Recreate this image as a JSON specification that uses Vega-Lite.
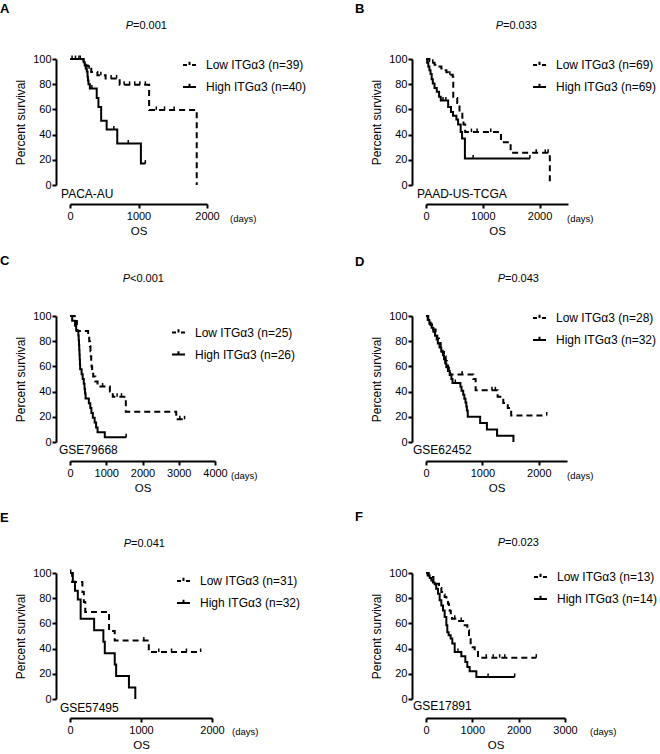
{
  "$schema": "https://vega.github.io/schema/vega-lite/v6.json",
  "background": "white",
  "padding": {"left": 0, "top": 2, "right": 4, "bottom": 0},
  "config": {
    "view": {"stroke": null},
    "font": "Liberation Sans",
    "axis": {"domainColor": "black", "domainWidth": 2, "tickColor": "black", "tickWidth": 2, "tickSize": 4, "labelColor": "black", "labelFontSize": 11, "labelFont": "Liberation Sans", "titleColor": "black", "titleFont": "Liberation Sans", "titleFontWeight": "normal", "grid": false, "labelFlush": false, "labelOverlap": false, "labelPadding": 2, "format": "d"},
    "axisX": {"titleFontSize": 11.5, "titlePadding": 4, "offset": 19},
    "axisY": {"titleFontSize": 12, "titlePadding": 5, "offset": 14, "labelPadding": 1},
    "legend": {"labelFontSize": 12, "labelFont": "Liberation Sans", "labelColor": "black", "symbolStrokeWidth": 2, "symbolSize": 169, "labelOffset": 9, "rowPadding": 8, "padding": 0, "symbolStrokeColor": "black"},
    "title": {"fontSize": 13, "fontWeight": "bold", "anchor": "start", "frame": "group", "color": "black", "font": "Liberation Sans"},
    "text": {"font": "Liberation Sans", "color": "black"}
  },
  "datasets": {
    "notes": [
      {"p": "A", "ds": "PACA-AU", "pv": "=0.001"},
      {"p": "B", "ds": "PAAD-US-TCGA", "pv": "=0.033"},
      {"p": "C", "ds": "GSE79668", "pv": "<0.001"},
      {"p": "D", "ds": "GSE62452", "pv": "=0.043"},
      {"p": "E", "ds": "GSE57495", "pv": "=0.041"},
      {"p": "F", "ds": "GSE17891", "pv": "=0.023"}
    ],
    "km": [
      {"p":"A","g":"Low ITGα3 (n=39)","t":0,"s":100,"c":0},
      {"p":"A","g":"Low ITGα3 (n=39)","t":195,"s":97.4,"c":0},
      {"p":"A","g":"Low ITGα3 (n=39)","t":225,"s":94.9,"c":0},
      {"p":"A","g":"Low ITGα3 (n=39)","t":260,"s":92.3,"c":0},
      {"p":"A","g":"Low ITGα3 (n=39)","t":310,"s":89.7,"c":0},
      {"p":"A","g":"Low ITGα3 (n=39)","t":400,"s":87.2,"c":0},
      {"p":"A","g":"Low ITGα3 (n=39)","t":520,"s":84.6,"c":0},
      {"p":"A","g":"Low ITGα3 (n=39)","t":725,"s":79.5,"c":0},
      {"p":"A","g":"Low ITGα3 (n=39)","t":1155,"s":59.6,"c":0},
      {"p":"A","g":"Low ITGα3 (n=39)","t":1850,"s":0,"c":0},
      {"p":"A","g":"Low ITGα3 (n=39)","t":30,"s":100,"c":1},
      {"p":"A","g":"Low ITGα3 (n=39)","t":80,"s":100,"c":1},
      {"p":"A","g":"Low ITGα3 (n=39)","t":130,"s":100,"c":1},
      {"p":"A","g":"Low ITGα3 (n=39)","t":280,"s":92.3,"c":1},
      {"p":"A","g":"Low ITGα3 (n=39)","t":450,"s":87.2,"c":1},
      {"p":"A","g":"Low ITGα3 (n=39)","t":600,"s":84.6,"c":1},
      {"p":"A","g":"Low ITGα3 (n=39)","t":680,"s":84.6,"c":1},
      {"p":"A","g":"Low ITGα3 (n=39)","t":790,"s":79.5,"c":1},
      {"p":"A","g":"Low ITGα3 (n=39)","t":870,"s":79.5,"c":1},
      {"p":"A","g":"Low ITGα3 (n=39)","t":945,"s":79.5,"c":1},
      {"p":"A","g":"Low ITGα3 (n=39)","t":1020,"s":79.5,"c":1},
      {"p":"A","g":"Low ITGα3 (n=39)","t":1100,"s":79.5,"c":1},
      {"p":"A","g":"Low ITGα3 (n=39)","t":1260,"s":59.6,"c":1},
      {"p":"A","g":"Low ITGα3 (n=39)","t":1380,"s":59.6,"c":1},
      {"p":"A","g":"Low ITGα3 (n=39)","t":1520,"s":59.6,"c":1},
      {"p":"A","g":"High ITGα3 (n=40)","t":0,"s":100,"c":0},
      {"p":"A","g":"High ITGα3 (n=40)","t":200,"s":97.5,"c":0},
      {"p":"A","g":"High ITGα3 (n=40)","t":215,"s":95,"c":0},
      {"p":"A","g":"High ITGα3 (n=40)","t":230,"s":92.5,"c":0},
      {"p":"A","g":"High ITGα3 (n=40)","t":245,"s":90,"c":0},
      {"p":"A","g":"High ITGα3 (n=40)","t":256,"s":86,"c":0},
      {"p":"A","g":"High ITGα3 (n=40)","t":262,"s":83,"c":0},
      {"p":"A","g":"High ITGα3 (n=40)","t":270,"s":80,"c":0},
      {"p":"A","g":"High ITGα3 (n=40)","t":290,"s":76.5,"c":0},
      {"p":"A","g":"High ITGα3 (n=40)","t":390,"s":69,"c":0},
      {"p":"A","g":"High ITGα3 (n=40)","t":415,"s":62,"c":0},
      {"p":"A","g":"High ITGα3 (n=40)","t":455,"s":51,"c":0},
      {"p":"A","g":"High ITGα3 (n=40)","t":535,"s":44,"c":0},
      {"p":"A","g":"High ITGα3 (n=40)","t":690,"s":33,"c":0},
      {"p":"A","g":"High ITGα3 (n=40)","t":1035,"s":17,"c":0},
      {"p":"A","g":"High ITGα3 (n=40)","t":150,"s":100,"c":1},
      {"p":"A","g":"High ITGα3 (n=40)","t":320,"s":76.5,"c":1},
      {"p":"A","g":"High ITGα3 (n=40)","t":640,"s":44,"c":1},
      {"p":"A","g":"High ITGα3 (n=40)","t":850,"s":33,"c":1},
      {"p":"A","g":"High ITGα3 (n=40)","t":1100,"s":17,"c":1},

      {"p":"B","g":"Low ITGα3 (n=69)","t":0,"s":100,"c":0},
      {"p":"B","g":"Low ITGα3 (n=69)","t":60,"s":98.5,"c":0},
      {"p":"B","g":"Low ITGα3 (n=69)","t":100,"s":97,"c":0},
      {"p":"B","g":"Low ITGα3 (n=69)","t":150,"s":95.5,"c":0},
      {"p":"B","g":"Low ITGα3 (n=69)","t":200,"s":94,"c":0},
      {"p":"B","g":"Low ITGα3 (n=69)","t":270,"s":92.5,"c":0},
      {"p":"B","g":"Low ITGα3 (n=69)","t":320,"s":91,"c":0},
      {"p":"B","g":"Low ITGα3 (n=69)","t":360,"s":89.5,"c":0},
      {"p":"B","g":"Low ITGα3 (n=69)","t":390,"s":87.5,"c":0},
      {"p":"B","g":"Low ITGα3 (n=69)","t":470,"s":86,"c":0},
      {"p":"B","g":"Low ITGα3 (n=69)","t":480,"s":69,"c":0},
      {"p":"B","g":"Low ITGα3 (n=69)","t":550,"s":65,"c":0},
      {"p":"B","g":"Low ITGα3 (n=69)","t":590,"s":58,"c":0},
      {"p":"B","g":"Low ITGα3 (n=69)","t":640,"s":52,"c":0},
      {"p":"B","g":"Low ITGα3 (n=69)","t":660,"s":48,"c":0},
      {"p":"B","g":"Low ITGα3 (n=69)","t":690,"s":42,"c":0},
      {"p":"B","g":"Low ITGα3 (n=69)","t":1320,"s":34,"c":0},
      {"p":"B","g":"Low ITGα3 (n=69)","t":1490,"s":25.5,"c":0},
      {"p":"B","g":"Low ITGα3 (n=69)","t":2180,"s":0,"c":0},
      {"p":"B","g":"Low ITGα3 (n=69)","t":120,"s":97,"c":1},
      {"p":"B","g":"Low ITGα3 (n=69)","t":420,"s":87.5,"c":1},
      {"p":"B","g":"Low ITGα3 (n=69)","t":800,"s":42,"c":1},
      {"p":"B","g":"Low ITGα3 (n=69)","t":900,"s":42,"c":1},
      {"p":"B","g":"Low ITGα3 (n=69)","t":1140,"s":42,"c":1},
      {"p":"B","g":"Low ITGα3 (n=69)","t":1940,"s":25.5,"c":1},
      {"p":"B","g":"Low ITGα3 (n=69)","t":2100,"s":25.5,"c":1},
      {"p":"B","g":"Low ITGα3 (n=69)","t":2150,"s":25.5,"c":1},
      {"p":"B","g":"High ITGα3 (n=69)","t":0,"s":100,"c":0},
      {"p":"B","g":"High ITGα3 (n=69)","t":20,"s":97,"c":0},
      {"p":"B","g":"High ITGα3 (n=69)","t":40,"s":94,"c":0},
      {"p":"B","g":"High ITGα3 (n=69)","t":60,"s":91,"c":0},
      {"p":"B","g":"High ITGα3 (n=69)","t":80,"s":88,"c":0},
      {"p":"B","g":"High ITGα3 (n=69)","t":100,"s":84,"c":0},
      {"p":"B","g":"High ITGα3 (n=69)","t":120,"s":80.5,"c":0},
      {"p":"B","g":"High ITGα3 (n=69)","t":150,"s":77,"c":0},
      {"p":"B","g":"High ITGα3 (n=69)","t":190,"s":74,"c":0},
      {"p":"B","g":"High ITGα3 (n=69)","t":230,"s":70,"c":0},
      {"p":"B","g":"High ITGα3 (n=69)","t":260,"s":67,"c":0},
      {"p":"B","g":"High ITGα3 (n=69)","t":390,"s":62,"c":0},
      {"p":"B","g":"High ITGα3 (n=69)","t":440,"s":58,"c":0},
      {"p":"B","g":"High ITGα3 (n=69)","t":475,"s":55,"c":0},
      {"p":"B","g":"High ITGα3 (n=69)","t":535,"s":52,"c":0},
      {"p":"B","g":"High ITGα3 (n=69)","t":565,"s":48,"c":0},
      {"p":"B","g":"High ITGα3 (n=69)","t":610,"s":42,"c":0},
      {"p":"B","g":"High ITGα3 (n=69)","t":635,"s":37,"c":0},
      {"p":"B","g":"High ITGα3 (n=69)","t":685,"s":21,"c":0},
      {"p":"B","g":"High ITGα3 (n=69)","t":300,"s":67,"c":1},
      {"p":"B","g":"High ITGα3 (n=69)","t":350,"s":67,"c":1},
      {"p":"B","g":"High ITGα3 (n=69)","t":830,"s":21,"c":1},
      {"p":"B","g":"High ITGα3 (n=69)","t":1830,"s":21,"c":1},

      {"p":"C","g":"Low ITGα3 (n=25)","t":0,"s":100,"c":0},
      {"p":"C","g":"Low ITGα3 (n=25)","t":130,"s":96,"c":0},
      {"p":"C","g":"Low ITGα3 (n=25)","t":190,"s":88,"c":0},
      {"p":"C","g":"Low ITGα3 (n=25)","t":500,"s":84,"c":0},
      {"p":"C","g":"Low ITGα3 (n=25)","t":530,"s":80,"c":0},
      {"p":"C","g":"Low ITGα3 (n=25)","t":550,"s":76,"c":0},
      {"p":"C","g":"Low ITGα3 (n=25)","t":565,"s":72,"c":0},
      {"p":"C","g":"Low ITGα3 (n=25)","t":575,"s":68,"c":0},
      {"p":"C","g":"Low ITGα3 (n=25)","t":585,"s":64,"c":0},
      {"p":"C","g":"Low ITGα3 (n=25)","t":595,"s":60,"c":0},
      {"p":"C","g":"Low ITGα3 (n=25)","t":610,"s":56,"c":0},
      {"p":"C","g":"Low ITGα3 (n=25)","t":640,"s":52,"c":0},
      {"p":"C","g":"Low ITGα3 (n=25)","t":700,"s":48,"c":0},
      {"p":"C","g":"Low ITGα3 (n=25)","t":760,"s":44,"c":0},
      {"p":"C","g":"Low ITGα3 (n=25)","t":1100,"s":40,"c":0},
      {"p":"C","g":"Low ITGα3 (n=25)","t":1180,"s":36,"c":0},
      {"p":"C","g":"Low ITGα3 (n=25)","t":1540,"s":24,"c":0},
      {"p":"C","g":"Low ITGα3 (n=25)","t":2930,"s":18,"c":0},
      {"p":"C","g":"Low ITGα3 (n=25)","t":900,"s":44,"c":1},
      {"p":"C","g":"Low ITGα3 (n=25)","t":1300,"s":36,"c":1},
      {"p":"C","g":"Low ITGα3 (n=25)","t":1420,"s":36,"c":1},
      {"p":"C","g":"Low ITGα3 (n=25)","t":3030,"s":18,"c":1},
      {"p":"C","g":"Low ITGα3 (n=25)","t":3160,"s":18,"c":1},
      {"p":"C","g":"High ITGα3 (n=26)","t":0,"s":100,"c":0},
      {"p":"C","g":"High ITGα3 (n=26)","t":60,"s":96.2,"c":0},
      {"p":"C","g":"High ITGα3 (n=26)","t":140,"s":92.3,"c":0},
      {"p":"C","g":"High ITGα3 (n=26)","t":170,"s":88.5,"c":0},
      {"p":"C","g":"High ITGα3 (n=26)","t":230,"s":84.6,"c":0},
      {"p":"C","g":"High ITGα3 (n=26)","t":240,"s":80.8,"c":0},
      {"p":"C","g":"High ITGα3 (n=26)","t":248,"s":76.9,"c":0},
      {"p":"C","g":"High ITGα3 (n=26)","t":255,"s":73.1,"c":0},
      {"p":"C","g":"High ITGα3 (n=26)","t":262,"s":69.2,"c":0},
      {"p":"C","g":"High ITGα3 (n=26)","t":268,"s":65.4,"c":0},
      {"p":"C","g":"High ITGα3 (n=26)","t":274,"s":61.5,"c":0},
      {"p":"C","g":"High ITGα3 (n=26)","t":280,"s":57.7,"c":0},
      {"p":"C","g":"High ITGα3 (n=26)","t":320,"s":53.8,"c":0},
      {"p":"C","g":"High ITGα3 (n=26)","t":350,"s":50,"c":0},
      {"p":"C","g":"High ITGα3 (n=26)","t":380,"s":46.2,"c":0},
      {"p":"C","g":"High ITGα3 (n=26)","t":400,"s":42.3,"c":0},
      {"p":"C","g":"High ITGα3 (n=26)","t":415,"s":38.5,"c":0},
      {"p":"C","g":"High ITGα3 (n=26)","t":430,"s":34.6,"c":0},
      {"p":"C","g":"High ITGα3 (n=26)","t":520,"s":30.8,"c":0},
      {"p":"C","g":"High ITGα3 (n=26)","t":560,"s":26.9,"c":0},
      {"p":"C","g":"High ITGα3 (n=26)","t":590,"s":23.1,"c":0},
      {"p":"C","g":"High ITGα3 (n=26)","t":630,"s":19.2,"c":0},
      {"p":"C","g":"High ITGα3 (n=26)","t":680,"s":15.4,"c":0},
      {"p":"C","g":"High ITGα3 (n=26)","t":720,"s":11.5,"c":0},
      {"p":"C","g":"High ITGα3 (n=26)","t":760,"s":7.7,"c":0},
      {"p":"C","g":"High ITGα3 (n=26)","t":960,"s":3.8,"c":0},
      {"p":"C","g":"High ITGα3 (n=26)","t":1550,"s":3.8,"c":1},

      {"p":"D","g":"Low ITGα3 (n=28)","t":0,"s":100,"c":0},
      {"p":"D","g":"Low ITGα3 (n=28)","t":40,"s":96.4,"c":0},
      {"p":"D","g":"Low ITGα3 (n=28)","t":80,"s":92.9,"c":0},
      {"p":"D","g":"Low ITGα3 (n=28)","t":130,"s":89.3,"c":0},
      {"p":"D","g":"Low ITGα3 (n=28)","t":170,"s":85.7,"c":0},
      {"p":"D","g":"Low ITGα3 (n=28)","t":200,"s":82.1,"c":0},
      {"p":"D","g":"Low ITGα3 (n=28)","t":230,"s":78.6,"c":0},
      {"p":"D","g":"Low ITGα3 (n=28)","t":260,"s":75,"c":0},
      {"p":"D","g":"Low ITGα3 (n=28)","t":290,"s":71.4,"c":0},
      {"p":"D","g":"Low ITGα3 (n=28)","t":320,"s":67.9,"c":0},
      {"p":"D","g":"Low ITGα3 (n=28)","t":350,"s":64.3,"c":0},
      {"p":"D","g":"Low ITGα3 (n=28)","t":370,"s":60.7,"c":0},
      {"p":"D","g":"Low ITGα3 (n=28)","t":390,"s":57.1,"c":0},
      {"p":"D","g":"Low ITGα3 (n=28)","t":430,"s":53.6,"c":0},
      {"p":"D","g":"Low ITGα3 (n=28)","t":840,"s":50,"c":0},
      {"p":"D","g":"Low ITGα3 (n=28)","t":880,"s":41,"c":0},
      {"p":"D","g":"Low ITGα3 (n=28)","t":1270,"s":36,"c":0},
      {"p":"D","g":"Low ITGα3 (n=28)","t":1370,"s":31,"c":0},
      {"p":"D","g":"Low ITGα3 (n=28)","t":1450,"s":27,"c":0},
      {"p":"D","g":"Low ITGα3 (n=28)","t":1510,"s":21,"c":0},
      {"p":"D","g":"Low ITGα3 (n=28)","t":410,"s":57.1,"c":1},
      {"p":"D","g":"Low ITGα3 (n=28)","t":640,"s":53.6,"c":1},
      {"p":"D","g":"Low ITGα3 (n=28)","t":1170,"s":41,"c":1},
      {"p":"D","g":"Low ITGα3 (n=28)","t":1230,"s":41,"c":1},
      {"p":"D","g":"Low ITGα3 (n=28)","t":2140,"s":21,"c":1},
      {"p":"D","g":"High ITGα3 (n=32)","t":0,"s":100,"c":0},
      {"p":"D","g":"High ITGα3 (n=32)","t":30,"s":96.9,"c":0},
      {"p":"D","g":"High ITGα3 (n=32)","t":60,"s":93.8,"c":0},
      {"p":"D","g":"High ITGα3 (n=32)","t":100,"s":90.6,"c":0},
      {"p":"D","g":"High ITGα3 (n=32)","t":130,"s":87.5,"c":0},
      {"p":"D","g":"High ITGα3 (n=32)","t":160,"s":84.4,"c":0},
      {"p":"D","g":"High ITGα3 (n=32)","t":190,"s":81.3,"c":0},
      {"p":"D","g":"High ITGα3 (n=32)","t":210,"s":78.1,"c":0},
      {"p":"D","g":"High ITGα3 (n=32)","t":240,"s":75,"c":0},
      {"p":"D","g":"High ITGα3 (n=32)","t":270,"s":71.9,"c":0},
      {"p":"D","g":"High ITGα3 (n=32)","t":300,"s":68.8,"c":0},
      {"p":"D","g":"High ITGα3 (n=32)","t":320,"s":65.6,"c":0},
      {"p":"D","g":"High ITGα3 (n=32)","t":340,"s":62.5,"c":0},
      {"p":"D","g":"High ITGα3 (n=32)","t":360,"s":59.4,"c":0},
      {"p":"D","g":"High ITGα3 (n=32)","t":390,"s":56.3,"c":0},
      {"p":"D","g":"High ITGα3 (n=32)","t":420,"s":53.1,"c":0},
      {"p":"D","g":"High ITGα3 (n=32)","t":450,"s":50,"c":0},
      {"p":"D","g":"High ITGα3 (n=32)","t":470,"s":46.9,"c":0},
      {"p":"D","g":"High ITGα3 (n=32)","t":610,"s":43.8,"c":0},
      {"p":"D","g":"High ITGα3 (n=32)","t":630,"s":40.6,"c":0},
      {"p":"D","g":"High ITGα3 (n=32)","t":660,"s":37.5,"c":0},
      {"p":"D","g":"High ITGα3 (n=32)","t":680,"s":34.4,"c":0},
      {"p":"D","g":"High ITGα3 (n=32)","t":700,"s":31.3,"c":0},
      {"p":"D","g":"High ITGα3 (n=32)","t":715,"s":28.1,"c":0},
      {"p":"D","g":"High ITGα3 (n=32)","t":725,"s":25,"c":0},
      {"p":"D","g":"High ITGα3 (n=32)","t":740,"s":20,"c":0},
      {"p":"D","g":"High ITGα3 (n=32)","t":960,"s":15,"c":0},
      {"p":"D","g":"High ITGα3 (n=32)","t":1080,"s":10,"c":0},
      {"p":"D","g":"High ITGα3 (n=32)","t":1260,"s":5,"c":0},
      {"p":"D","g":"High ITGα3 (n=32)","t":1550,"s":0,"c":0},
      {"p":"D","g":"High ITGα3 (n=32)","t":520,"s":46.9,"c":1},

      {"p":"E","g":"Low ITGα3 (n=31)","t":0,"s":100,"c":0},
      {"p":"E","g":"Low ITGα3 (n=31)","t":30,"s":92.9,"c":0},
      {"p":"E","g":"Low ITGα3 (n=31)","t":175,"s":85,"c":0},
      {"p":"E","g":"Low ITGα3 (n=31)","t":195,"s":77,"c":0},
      {"p":"E","g":"Low ITGα3 (n=31)","t":215,"s":69,"c":0},
      {"p":"E","g":"Low ITGα3 (n=31)","t":550,"s":54,"c":0},
      {"p":"E","g":"Low ITGα3 (n=31)","t":630,"s":46.5,"c":0},
      {"p":"E","g":"Low ITGα3 (n=31)","t":1110,"s":37.3,"c":0},
      {"p":"E","g":"Low ITGα3 (n=31)","t":10,"s":100,"c":1},
      {"p":"E","g":"Low ITGα3 (n=31)","t":1040,"s":46.5,"c":1},
      {"p":"E","g":"Low ITGα3 (n=31)","t":1250,"s":37.3,"c":1},
      {"p":"E","g":"Low ITGα3 (n=31)","t":1430,"s":37.3,"c":1},
      {"p":"E","g":"Low ITGα3 (n=31)","t":1640,"s":37.3,"c":1},
      {"p":"E","g":"Low ITGα3 (n=31)","t":1840,"s":37.3,"c":1},
      {"p":"E","g":"High ITGα3 (n=32)","t":0,"s":100,"c":0},
      {"p":"E","g":"High ITGα3 (n=32)","t":40,"s":93,"c":0},
      {"p":"E","g":"High ITGα3 (n=32)","t":70,"s":86,"c":0},
      {"p":"E","g":"High ITGα3 (n=32)","t":110,"s":79,"c":0},
      {"p":"E","g":"High ITGα3 (n=32)","t":150,"s":63.6,"c":0},
      {"p":"E","g":"High ITGα3 (n=32)","t":340,"s":54.5,"c":0},
      {"p":"E","g":"High ITGα3 (n=32)","t":470,"s":45.5,"c":0},
      {"p":"E","g":"High ITGα3 (n=32)","t":490,"s":36.4,"c":0},
      {"p":"E","g":"High ITGα3 (n=32)","t":630,"s":27.3,"c":0},
      {"p":"E","g":"High ITGα3 (n=32)","t":650,"s":18.2,"c":0},
      {"p":"E","g":"High ITGα3 (n=32)","t":830,"s":9.1,"c":0},
      {"p":"E","g":"High ITGα3 (n=32)","t":920,"s":0,"c":0},

      {"p":"F","g":"Low ITGα3 (n=13)","t":0,"s":100,"c":0},
      {"p":"F","g":"Low ITGα3 (n=13)","t":60,"s":98,"c":0},
      {"p":"F","g":"Low ITGα3 (n=13)","t":115,"s":96.8,"c":0},
      {"p":"F","g":"Low ITGα3 (n=13)","t":160,"s":94,"c":0},
      {"p":"F","g":"Low ITGα3 (n=13)","t":223,"s":91.5,"c":0},
      {"p":"F","g":"Low ITGα3 (n=13)","t":280,"s":88,"c":0},
      {"p":"F","g":"Low ITGα3 (n=13)","t":331,"s":85,"c":0},
      {"p":"F","g":"Low ITGα3 (n=13)","t":370,"s":83,"c":0},
      {"p":"F","g":"Low ITGα3 (n=13)","t":403,"s":81,"c":0},
      {"p":"F","g":"Low ITGα3 (n=13)","t":440,"s":78,"c":0},
      {"p":"F","g":"Low ITGα3 (n=13)","t":475,"s":75.5,"c":0},
      {"p":"F","g":"Low ITGα3 (n=13)","t":495,"s":72,"c":0},
      {"p":"F","g":"Low ITGα3 (n=13)","t":511,"s":70,"c":0},
      {"p":"F","g":"Low ITGα3 (n=13)","t":535,"s":66,"c":0},
      {"p":"F","g":"Low ITGα3 (n=13)","t":561,"s":63.7,"c":0},
      {"p":"F","g":"Low ITGα3 (n=13)","t":680,"s":62,"c":0},
      {"p":"F","g":"Low ITGα3 (n=13)","t":835,"s":58.6,"c":0},
      {"p":"F","g":"Low ITGα3 (n=13)","t":892,"s":54.6,"c":0},
      {"p":"F","g":"Low ITGα3 (n=13)","t":928,"s":49,"c":0},
      {"p":"F","g":"Low ITGα3 (n=13)","t":964,"s":41,"c":0},
      {"p":"F","g":"Low ITGα3 (n=13)","t":1050,"s":38.4,"c":0},
      {"p":"F","g":"Low ITGα3 (n=13)","t":1122,"s":32.8,"c":0},
      {"p":"F","g":"Low ITGα3 (n=13)","t":620,"s":63.7,"c":1},
      {"p":"F","g":"Low ITGα3 (n=13)","t":760,"s":62,"c":1},
      {"p":"F","g":"Low ITGα3 (n=13)","t":1300,"s":32.8,"c":1},
      {"p":"F","g":"Low ITGα3 (n=13)","t":1450,"s":32.8,"c":1},
      {"p":"F","g":"Low ITGα3 (n=13)","t":1590,"s":32.8,"c":1},
      {"p":"F","g":"Low ITGα3 (n=13)","t":1700,"s":32.8,"c":1},
      {"p":"F","g":"Low ITGα3 (n=13)","t":2380,"s":32.8,"c":1},
      {"p":"F","g":"High ITGα3 (n=14)","t":0,"s":100,"c":0},
      {"p":"F","g":"High ITGα3 (n=14)","t":35,"s":98,"c":0},
      {"p":"F","g":"High ITGα3 (n=14)","t":80,"s":96,"c":0},
      {"p":"F","g":"High ITGα3 (n=14)","t":115,"s":94,"c":0},
      {"p":"F","g":"High ITGα3 (n=14)","t":150,"s":92.5,"c":0},
      {"p":"F","g":"High ITGα3 (n=14)","t":187,"s":91,"c":0},
      {"p":"F","g":"High ITGα3 (n=14)","t":220,"s":87.5,"c":0},
      {"p":"F","g":"High ITGα3 (n=14)","t":259,"s":83.6,"c":0},
      {"p":"F","g":"High ITGα3 (n=14)","t":295,"s":78.3,"c":0},
      {"p":"F","g":"High ITGα3 (n=14)","t":331,"s":74.3,"c":0},
      {"p":"F","g":"High ITGα3 (n=14)","t":367,"s":70.3,"c":0},
      {"p":"F","g":"High ITGα3 (n=14)","t":403,"s":65,"c":0},
      {"p":"F","g":"High ITGα3 (n=14)","t":439,"s":58.5,"c":0},
      {"p":"F","g":"High ITGα3 (n=14)","t":460,"s":53,"c":0},
      {"p":"F","g":"High ITGα3 (n=14)","t":489,"s":50.5,"c":0},
      {"p":"F","g":"High ITGα3 (n=14)","t":532,"s":48,"c":0},
      {"p":"F","g":"High ITGα3 (n=14)","t":568,"s":44,"c":0},
      {"p":"F","g":"High ITGα3 (n=14)","t":619,"s":37.3,"c":0},
      {"p":"F","g":"High ITGα3 (n=14)","t":763,"s":34,"c":0},
      {"p":"F","g":"High ITGα3 (n=14)","t":849,"s":29.4,"c":0},
      {"p":"F","g":"High ITGα3 (n=14)","t":892,"s":25.4,"c":0},
      {"p":"F","g":"High ITGα3 (n=14)","t":942,"s":22,"c":0},
      {"p":"F","g":"High ITGα3 (n=14)","t":1087,"s":17.5,"c":0},
      {"p":"F","g":"High ITGα3 (n=14)","t":690,"s":37.3,"c":1},
      {"p":"F","g":"High ITGα3 (n=14)","t":1340,"s":17.5,"c":1},
      {"p":"F","g":"High ITGα3 (n=14)","t":1914,"s":17.5,"c":1}
    ]
  },
  "columns": 2,
  "spacing": {"row": 131, "column": 211},
  "bounds": "flush",
  "resolve": {"scale": {"strokeDash": "independent"}, "legend": {"strokeDash": "independent"}},
  "concat": [
    {
      "width": 137, "height": 126,
      "title": {"text": "A", "offset": 4.2, "dx": -70},
      "layer": [
        {"data": {"name": "km"}, "transform": [{"filter": "datum.p==='A'"}],
         "mark": {"type": "line", "interpolate": "step-after", "strokeWidth": 2, "color": "black"},
         "encoding": {
           "x": {"field": "t", "type": "quantitative", "scale": {"domain": [0, 2000], "nice": false}, "axis": {"values": [0, 1000, 2000], "labelOverlap": false, "title": "OS"}},
           "y": {"field": "s", "type": "quantitative", "scale": {"domain": [0, 100], "nice": false}, "axis": {"values": [0, 20, 40, 60, 80, 100], "labelOverlap": false, "title": "Percent survival"}},
           "strokeDash": {"field": "g", "type": "nominal", "sort": "descending", "scale": {"range": [[6, 4], [1, 0]]},
             "legend": {"title": null, "orient": "none", "legendX": 112, "legendY": -1.5,
               "encode": {"symbols": {"update": {"shape": {"signal": "indexof(datum.value,'Low')===0 ? 'M-1,0H-0.38M0.38,0H1M0,0V-0.5' : 'M-1,0H1M0,0V-0.5'"}, "strokeDash": {"value": [1, 0]}, "stroke": {"value": "black"}, "strokeWidth": {"value": 2}}}}}}
         }},
        {"data": {"name": "km"}, "transform": [{"filter": "datum.p==='A' && datum.c===1"}],
         "mark": {"type": "point", "shape": "M0,0V-1", "size": 49, "filled": false, "stroke": "black", "strokeWidth": 1.5, "opacity": 1},
         "encoding": {"x": {"field": "t", "type": "quantitative", "axis": {"values": [0, 1000, 2000], "labelOverlap": false, "title": "OS"}}, "y": {"field": "s", "type": "quantitative", "axis": {"values": [0, 20, 40, 60, 80, 100], "labelOverlap": false, "title": "Percent survival"}}}},
        {"data": {"name": "notes"}, "transform": [{"filter": "datum.p==='A'"}],
         "mark": {"type": "text", "align": "left", "baseline": "middle", "fontSize": 12},
         "encoding": {"x": {"datum": -131, "type": "quantitative", "axis": {"values": [0, 1000, 2000], "labelOverlap": false, "title": "OS"}}, "y": {"datum": -7.1, "type": "quantitative", "axis": {"values": [0, 20, 40, 60, 80, 100], "labelOverlap": false, "title": "Percent survival"}}, "text": {"field": "ds"}}},
        {"data": {"name": "notes"}, "transform": [{"filter": "datum.p==='A'"}],
         "mark": {"type": "text", "text": "P", "fontStyle": "italic", "align": "right", "baseline": "middle", "fontSize": 11},
         "encoding": {"x": {"datum": 920, "type": "quantitative", "axis": {"values": [0, 1000, 2000], "labelOverlap": false, "title": "OS"}}, "y": {"datum": 126.2, "type": "quantitative", "axis": {"values": [0, 20, 40, 60, 80, 100], "labelOverlap": false, "title": "Percent survival"}}}},
        {"data": {"name": "notes"}, "transform": [{"filter": "datum.p==='A'"}],
         "mark": {"type": "text", "align": "left", "baseline": "middle", "fontSize": 11},
         "encoding": {"x": {"datum": 920, "type": "quantitative", "axis": {"values": [0, 1000, 2000], "labelOverlap": false, "title": "OS"}}, "y": {"datum": 126.2, "type": "quantitative", "axis": {"values": [0, 20, 40, 60, 80, 100], "labelOverlap": false, "title": "Percent survival"}}, "text": {"field": "pv"}}},
        {"data": {"name": "notes"}, "transform": [{"filter": "datum.p==='A'"}],
         "mark": {"type": "text", "text": "(days)", "align": "left", "baseline": "middle", "fontSize": 9.5},
         "encoding": {"x": {"datum": 2336, "type": "quantitative", "axis": {"values": [0, 1000, 2000], "labelOverlap": false, "title": "OS"}}, "y": {"datum": -27, "type": "quantitative", "axis": {"values": [0, 20, 40, 60, 80, 100], "labelOverlap": false, "title": "Percent survival"}}}}
      ]
    },
    {
      "width": 142, "height": 126,
      "title": {"text": "B", "offset": 3.6, "dx": -71},
      "layer": [
        {"data": {"name": "km"}, "transform": [{"filter": "datum.p==='B'"}],
         "mark": {"type": "line", "interpolate": "step-after", "strokeWidth": 2, "color": "black"},
         "encoding": {
           "x": {"field": "t", "type": "quantitative", "scale": {"domain": [0, 2500], "nice": false}, "axis": {"values": [0, 1000, 2000], "labelOverlap": false, "title": "OS"}},
           "y": {"field": "s", "type": "quantitative", "scale": {"domain": [0, 100], "nice": false}, "axis": {"values": [0, 20, 40, 60, 80, 100], "labelOverlap": false, "title": "Percent survival"}},
           "strokeDash": {"field": "g", "type": "nominal", "sort": "descending", "scale": {"range": [[6, 4], [1, 0]]},
             "legend": {"title": null, "orient": "none", "legendX": 106, "legendY": -1.5,
               "encode": {"symbols": {"update": {"shape": {"signal": "indexof(datum.value,'Low')===0 ? 'M-1,0H-0.38M0.38,0H1M0,0V-0.5' : 'M-1,0H1M0,0V-0.5'"}, "strokeDash": {"value": [1, 0]}, "stroke": {"value": "black"}, "strokeWidth": {"value": 2}}}}}}
         }},
        {"data": {"name": "km"}, "transform": [{"filter": "datum.p==='B' && datum.c===1"}],
         "mark": {"type": "point", "shape": "M0,0V-1", "size": 49, "filled": false, "stroke": "black", "strokeWidth": 1.5, "opacity": 1},
         "encoding": {"x": {"field": "t", "type": "quantitative", "axis": {"values": [0, 1000, 2000], "labelOverlap": false, "title": "OS"}}, "y": {"field": "s", "type": "quantitative", "axis": {"values": [0, 20, 40, 60, 80, 100], "labelOverlap": false, "title": "Percent survival"}}}},
        {"data": {"name": "notes"}, "transform": [{"filter": "datum.p==='B'"}],
         "mark": {"type": "text", "align": "left", "baseline": "middle", "fontSize": 12},
         "encoding": {"x": {"datum": -158, "type": "quantitative", "axis": {"values": [0, 1000, 2000], "labelOverlap": false, "title": "OS"}}, "y": {"datum": -7.1, "type": "quantitative", "axis": {"values": [0, 20, 40, 60, 80, 100], "labelOverlap": false, "title": "Percent survival"}}, "text": {"field": "ds"}}},
        {"data": {"name": "notes"}, "transform": [{"filter": "datum.p==='B'"}],
         "mark": {"type": "text", "text": "P", "fontStyle": "italic", "align": "right", "baseline": "middle", "fontSize": 11},
         "encoding": {"x": {"datum": 1356, "type": "quantitative", "axis": {"values": [0, 1000, 2000], "labelOverlap": false, "title": "OS"}}, "y": {"datum": 126.2, "type": "quantitative", "axis": {"values": [0, 20, 40, 60, 80, 100], "labelOverlap": false, "title": "Percent survival"}}}},
        {"data": {"name": "notes"}, "transform": [{"filter": "datum.p==='B'"}],
         "mark": {"type": "text", "align": "left", "baseline": "middle", "fontSize": 11},
         "encoding": {"x": {"datum": 1356, "type": "quantitative", "axis": {"values": [0, 1000, 2000], "labelOverlap": false, "title": "OS"}}, "y": {"datum": 126.2, "type": "quantitative", "axis": {"values": [0, 20, 40, 60, 80, 100], "labelOverlap": false, "title": "Percent survival"}}, "text": {"field": "pv"}}},
        {"data": {"name": "notes"}, "transform": [{"filter": "datum.p==='B'"}],
         "mark": {"type": "text", "text": "(days)", "align": "left", "baseline": "middle", "fontSize": 9.5},
         "encoding": {"x": {"datum": 2482, "type": "quantitative", "axis": {"values": [0, 1000, 2000], "labelOverlap": false, "title": "OS"}}, "y": {"datum": -27, "type": "quantitative", "axis": {"values": [0, 20, 40, 60, 80, 100], "labelOverlap": false, "title": "Percent survival"}}}}
      ]
    },
    {
      "width": 145, "height": 126,
      "title": {"text": "C", "offset": 5.2, "dx": -70},
      "layer": [
        {"data": {"name": "km"}, "transform": [{"filter": "datum.p==='C'"}],
         "mark": {"type": "line", "interpolate": "step-after", "strokeWidth": 2, "color": "black"},
         "encoding": {
           "x": {"field": "t", "type": "quantitative", "scale": {"domain": [0, 4000], "nice": false}, "axis": {"values": [0, 1000, 2000, 3000, 4000], "labelOverlap": false, "title": "OS"}},
           "y": {"field": "s", "type": "quantitative", "scale": {"domain": [0, 100], "nice": false}, "axis": {"values": [0, 20, 40, 60, 80, 100], "labelOverlap": false, "title": "Percent survival"}},
           "strokeDash": {"field": "g", "type": "nominal", "sort": "descending", "scale": {"range": [[6, 4], [1, 0]]},
             "legend": {"title": null, "orient": "none", "legendX": 101, "legendY": 9,
               "encode": {"symbols": {"update": {"shape": {"signal": "indexof(datum.value,'Low')===0 ? 'M-1,0H-0.38M0.38,0H1M0,0V-0.5' : 'M-1,0H1M0,0V-0.5'"}, "strokeDash": {"value": [1, 0]}, "stroke": {"value": "black"}, "strokeWidth": {"value": 2}}}}}}
         }},
        {"data": {"name": "km"}, "transform": [{"filter": "datum.p==='C' && datum.c===1"}],
         "mark": {"type": "point", "shape": "M0,0V-1", "size": 49, "filled": false, "stroke": "black", "strokeWidth": 1.5, "opacity": 1},
         "encoding": {"x": {"field": "t", "type": "quantitative", "axis": {"values": [0, 1000, 2000, 3000, 4000], "labelOverlap": false, "title": "OS"}}, "y": {"field": "s", "type": "quantitative", "axis": {"values": [0, 20, 40, 60, 80, 100], "labelOverlap": false, "title": "Percent survival"}}}},
        {"data": {"name": "notes"}, "transform": [{"filter": "datum.p==='C'"}],
         "mark": {"type": "text", "align": "left", "baseline": "middle", "fontSize": 12},
         "encoding": {"x": {"datum": -303, "type": "quantitative", "axis": {"values": [0, 1000, 2000, 3000, 4000], "labelOverlap": false, "title": "OS"}}, "y": {"datum": -6.3, "type": "quantitative", "axis": {"values": [0, 20, 40, 60, 80, 100], "labelOverlap": false, "title": "Percent survival"}}, "text": {"field": "ds"}}},
        {"data": {"name": "notes"}, "transform": [{"filter": "datum.p==='C'"}],
         "mark": {"type": "text", "text": "P", "fontStyle": "italic", "align": "right", "baseline": "middle", "fontSize": 11},
         "encoding": {"x": {"datum": 1655, "type": "quantitative", "axis": {"values": [0, 1000, 2000, 3000, 4000], "labelOverlap": false, "title": "OS"}}, "y": {"datum": 129, "type": "quantitative", "axis": {"values": [0, 20, 40, 60, 80, 100], "labelOverlap": false, "title": "Percent survival"}}}},
        {"data": {"name": "notes"}, "transform": [{"filter": "datum.p==='C'"}],
         "mark": {"type": "text", "align": "left", "baseline": "middle", "fontSize": 11},
         "encoding": {"x": {"datum": 1655, "type": "quantitative", "axis": {"values": [0, 1000, 2000, 3000, 4000], "labelOverlap": false, "title": "OS"}}, "y": {"datum": 129, "type": "quantitative", "axis": {"values": [0, 20, 40, 60, 80, 100], "labelOverlap": false, "title": "Percent survival"}}, "text": {"field": "pv"}}},
        {"data": {"name": "notes"}, "transform": [{"filter": "datum.p==='C'"}],
         "mark": {"type": "text", "text": "(days)", "align": "left", "baseline": "middle", "fontSize": 9.5},
         "encoding": {"x": {"datum": 4441, "type": "quantitative", "axis": {"values": [0, 1000, 2000, 3000, 4000], "labelOverlap": false, "title": "OS"}}, "y": {"datum": -27, "type": "quantitative", "axis": {"values": [0, 20, 40, 60, 80, 100], "labelOverlap": false, "title": "Percent survival"}}}}
      ]
    },
    {
      "width": 141, "height": 126,
      "title": {"text": "D", "offset": 3.6, "dx": -71},
      "layer": [
        {"data": {"name": "km"}, "transform": [{"filter": "datum.p==='D'"}],
         "mark": {"type": "line", "interpolate": "step-after", "strokeWidth": 2, "color": "black"},
         "encoding": {
           "x": {"field": "t", "type": "quantitative", "scale": {"domain": [0, 2500], "nice": false}, "axis": {"values": [0, 1000, 2000], "labelOverlap": false, "title": "OS"}},
           "y": {"field": "s", "type": "quantitative", "scale": {"domain": [0, 100], "nice": false}, "axis": {"values": [0, 20, 40, 60, 80, 100], "labelOverlap": false, "title": "Percent survival"}},
           "strokeDash": {"field": "g", "type": "nominal", "sort": "descending", "scale": {"range": [[6, 4], [1, 0]]},
             "legend": {"title": null, "orient": "none", "legendX": 106, "legendY": -5.5,
               "encode": {"symbols": {"update": {"shape": {"signal": "indexof(datum.value,'Low')===0 ? 'M-1,0H-0.38M0.38,0H1M0,0V-0.5' : 'M-1,0H1M0,0V-0.5'"}, "strokeDash": {"value": [1, 0]}, "stroke": {"value": "black"}, "strokeWidth": {"value": 2}}}}}}
         }},
        {"data": {"name": "km"}, "transform": [{"filter": "datum.p==='D' && datum.c===1"}],
         "mark": {"type": "point", "shape": "M0,0V-1", "size": 49, "filled": false, "stroke": "black", "strokeWidth": 1.5, "opacity": 1},
         "encoding": {"x": {"field": "t", "type": "quantitative", "axis": {"values": [0, 1000, 2000], "labelOverlap": false, "title": "OS"}}, "y": {"field": "s", "type": "quantitative", "axis": {"values": [0, 20, 40, 60, 80, 100], "labelOverlap": false, "title": "Percent survival"}}}},
        {"data": {"name": "notes"}, "transform": [{"filter": "datum.p==='D'"}],
         "mark": {"type": "text", "align": "left", "baseline": "middle", "fontSize": 12},
         "encoding": {"x": {"datum": -230, "type": "quantitative", "axis": {"values": [0, 1000, 2000], "labelOverlap": false, "title": "OS"}}, "y": {"datum": -6.3, "type": "quantitative", "axis": {"values": [0, 20, 40, 60, 80, 100], "labelOverlap": false, "title": "Percent survival"}}, "text": {"field": "ds"}}},
        {"data": {"name": "notes"}, "transform": [{"filter": "datum.p==='D'"}],
         "mark": {"type": "text", "text": "P", "fontStyle": "italic", "align": "right", "baseline": "middle", "fontSize": 11},
         "encoding": {"x": {"datum": 1401, "type": "quantitative", "axis": {"values": [0, 1000, 2000], "labelOverlap": false, "title": "OS"}}, "y": {"datum": 129.4, "type": "quantitative", "axis": {"values": [0, 20, 40, 60, 80, 100], "labelOverlap": false, "title": "Percent survival"}}}},
        {"data": {"name": "notes"}, "transform": [{"filter": "datum.p==='D'"}],
         "mark": {"type": "text", "align": "left", "baseline": "middle", "fontSize": 11},
         "encoding": {"x": {"datum": 1401, "type": "quantitative", "axis": {"values": [0, 1000, 2000], "labelOverlap": false, "title": "OS"}}, "y": {"datum": 129.4, "type": "quantitative", "axis": {"values": [0, 20, 40, 60, 80, 100], "labelOverlap": false, "title": "Percent survival"}}, "text": {"field": "pv"}}},
        {"data": {"name": "notes"}, "transform": [{"filter": "datum.p==='D'"}],
         "mark": {"type": "text", "text": "(days)", "align": "left", "baseline": "middle", "fontSize": 9.5},
         "encoding": {"x": {"datum": 2500, "type": "quantitative", "axis": {"values": [0, 1000, 2000], "labelOverlap": false, "title": "OS"}}, "y": {"datum": -27, "type": "quantitative", "axis": {"values": [0, 20, 40, 60, 80, 100], "labelOverlap": false, "title": "Percent survival"}}}}
      ]
    },
    {
      "width": 142, "height": 126,
      "title": {"text": "E", "offset": 12.9, "dx": -70},
      "layer": [
        {"data": {"name": "km"}, "transform": [{"filter": "datum.p==='E'"}],
         "mark": {"type": "line", "interpolate": "step-after", "strokeWidth": 2, "color": "black"},
         "encoding": {
           "x": {"field": "t", "type": "quantitative", "scale": {"domain": [0, 2000], "nice": false}, "axis": {"values": [0, 1000, 2000], "labelOverlap": false, "title": "OS"}},
           "y": {"field": "s", "type": "quantitative", "scale": {"domain": [0, 100], "nice": false}, "axis": {"values": [0, 20, 40, 60, 80, 100], "labelOverlap": false, "title": "Percent survival"}},
           "strokeDash": {"field": "g", "type": "nominal", "sort": "descending", "scale": {"range": [[6, 4], [1, 0]]},
             "legend": {"title": null, "orient": "none", "legendX": 106, "legendY": 0.5,
               "encode": {"symbols": {"update": {"shape": {"signal": "indexof(datum.value,'Low')===0 ? 'M-1,0H-0.38M0.38,0H1M0,0V-0.5' : 'M-1,0H1M0,0V-0.5'"}, "strokeDash": {"value": [1, 0]}, "stroke": {"value": "black"}, "strokeWidth": {"value": 2}}}}}}
         }},
        {"data": {"name": "km"}, "transform": [{"filter": "datum.p==='E' && datum.c===1"}],
         "mark": {"type": "point", "shape": "M0,0V-1", "size": 49, "filled": false, "stroke": "black", "strokeWidth": 1.5, "opacity": 1},
         "encoding": {"x": {"field": "t", "type": "quantitative", "axis": {"values": [0, 1000, 2000], "labelOverlap": false, "title": "OS"}}, "y": {"field": "s", "type": "quantitative", "axis": {"values": [0, 20, 40, 60, 80, 100], "labelOverlap": false, "title": "Percent survival"}}}},
        {"data": {"name": "notes"}, "transform": [{"filter": "datum.p==='E'"}],
         "mark": {"type": "text", "align": "left", "baseline": "middle", "fontSize": 12},
         "encoding": {"x": {"datum": -141, "type": "quantitative", "axis": {"values": [0, 1000, 2000], "labelOverlap": false, "title": "OS"}}, "y": {"datum": -7.1, "type": "quantitative", "axis": {"values": [0, 20, 40, 60, 80, 100], "labelOverlap": false, "title": "Percent survival"}}, "text": {"field": "ds"}}},
        {"data": {"name": "notes"}, "transform": [{"filter": "datum.p==='E'"}],
         "mark": {"type": "text", "text": "P", "fontStyle": "italic", "align": "right", "baseline": "middle", "fontSize": 11},
         "encoding": {"x": {"datum": 859, "type": "quantitative", "axis": {"values": [0, 1000, 2000], "labelOverlap": false, "title": "OS"}}, "y": {"datum": 123, "type": "quantitative", "axis": {"values": [0, 20, 40, 60, 80, 100], "labelOverlap": false, "title": "Percent survival"}}}},
        {"data": {"name": "notes"}, "transform": [{"filter": "datum.p==='E'"}],
         "mark": {"type": "text", "align": "left", "baseline": "middle", "fontSize": 11},
         "encoding": {"x": {"datum": 859, "type": "quantitative", "axis": {"values": [0, 1000, 2000], "labelOverlap": false, "title": "OS"}}, "y": {"datum": 123, "type": "quantitative", "axis": {"values": [0, 20, 40, 60, 80, 100], "labelOverlap": false, "title": "Percent survival"}}, "text": {"field": "pv"}}},
        {"data": {"name": "notes"}, "transform": [{"filter": "datum.p==='E'"}],
         "mark": {"type": "text", "text": "(days)", "align": "left", "baseline": "middle", "fontSize": 9.5},
         "encoding": {"x": {"datum": 2282, "type": "quantitative", "axis": {"values": [0, 1000, 2000], "labelOverlap": false, "title": "OS"}}, "y": {"datum": -26, "type": "quantitative", "axis": {"values": [0, 20, 40, 60, 80, 100], "labelOverlap": false, "title": "Percent survival"}}}}
      ]
    },
    {
      "width": 139, "height": 126,
      "title": {"text": "F", "offset": 12.9, "dx": -71},
      "layer": [
        {"data": {"name": "km"}, "transform": [{"filter": "datum.p==='F'"}],
         "mark": {"type": "line", "interpolate": "step-after", "strokeWidth": 2, "color": "black"},
         "encoding": {
           "x": {"field": "t", "type": "quantitative", "scale": {"domain": [0, 3000], "nice": false}, "axis": {"values": [0, 1000, 2000, 3000], "labelOverlap": false, "title": "OS"}},
           "y": {"field": "s", "type": "quantitative", "scale": {"domain": [0, 100], "nice": false}, "axis": {"values": [0, 20, 40, 60, 80, 100], "labelOverlap": false, "title": "Percent survival"}},
           "strokeDash": {"field": "g", "type": "nominal", "sort": "descending", "scale": {"range": [[6, 4], [1, 0]]},
             "legend": {"title": null, "orient": "none", "legendX": 107, "legendY": -3.5,
               "encode": {"symbols": {"update": {"shape": {"signal": "indexof(datum.value,'Low')===0 ? 'M-1,0H-0.38M0.38,0H1M0,0V-0.5' : 'M-1,0H1M0,0V-0.5'"}, "strokeDash": {"value": [1, 0]}, "stroke": {"value": "black"}, "strokeWidth": {"value": 2}}}}}}
         }},
        {"data": {"name": "km"}, "transform": [{"filter": "datum.p==='F' && datum.c===1"}],
         "mark": {"type": "point", "shape": "M0,0V-1", "size": 49, "filled": false, "stroke": "black", "strokeWidth": 1.5, "opacity": 1},
         "encoding": {"x": {"field": "t", "type": "quantitative", "axis": {"values": [0, 1000, 2000, 3000], "labelOverlap": false, "title": "OS"}}, "y": {"field": "s", "type": "quantitative", "axis": {"values": [0, 20, 40, 60, 80, 100], "labelOverlap": false, "title": "Percent survival"}}}},
        {"data": {"name": "notes"}, "transform": [{"filter": "datum.p==='F'"}],
         "mark": {"type": "text", "align": "left", "baseline": "middle", "fontSize": 12},
         "encoding": {"x": {"datum": -281, "type": "quantitative", "axis": {"values": [0, 1000, 2000, 3000], "labelOverlap": false, "title": "OS"}}, "y": {"datum": -5.6, "type": "quantitative", "axis": {"values": [0, 20, 40, 60, 80, 100], "labelOverlap": false, "title": "Percent survival"}}, "text": {"field": "ds"}}},
        {"data": {"name": "notes"}, "transform": [{"filter": "datum.p==='F'"}],
         "mark": {"type": "text", "text": "P", "fontStyle": "italic", "align": "right", "baseline": "middle", "fontSize": 11},
         "encoding": {"x": {"datum": 1705, "type": "quantitative", "axis": {"values": [0, 1000, 2000, 3000], "labelOverlap": false, "title": "OS"}}, "y": {"datum": 123.8, "type": "quantitative", "axis": {"values": [0, 20, 40, 60, 80, 100], "labelOverlap": false, "title": "Percent survival"}}}},
        {"data": {"name": "notes"}, "transform": [{"filter": "datum.p==='F'"}],
         "mark": {"type": "text", "align": "left", "baseline": "middle", "fontSize": 11},
         "encoding": {"x": {"datum": 1705, "type": "quantitative", "axis": {"values": [0, 1000, 2000, 3000], "labelOverlap": false, "title": "OS"}}, "y": {"datum": 123.8, "type": "quantitative", "axis": {"values": [0, 20, 40, 60, 80, 100], "labelOverlap": false, "title": "Percent survival"}}, "text": {"field": "pv"}}},
        {"data": {"name": "notes"}, "transform": [{"filter": "datum.p==='F'"}],
         "mark": {"type": "text", "text": "(days)", "align": "left", "baseline": "middle", "fontSize": 9.5},
         "encoding": {"x": {"datum": 3540, "type": "quantitative", "axis": {"values": [0, 1000, 2000, 3000], "labelOverlap": false, "title": "OS"}}, "y": {"datum": -26, "type": "quantitative", "axis": {"values": [0, 20, 40, 60, 80, 100], "labelOverlap": false, "title": "Percent survival"}}}}
      ]
    }
  ]
}
